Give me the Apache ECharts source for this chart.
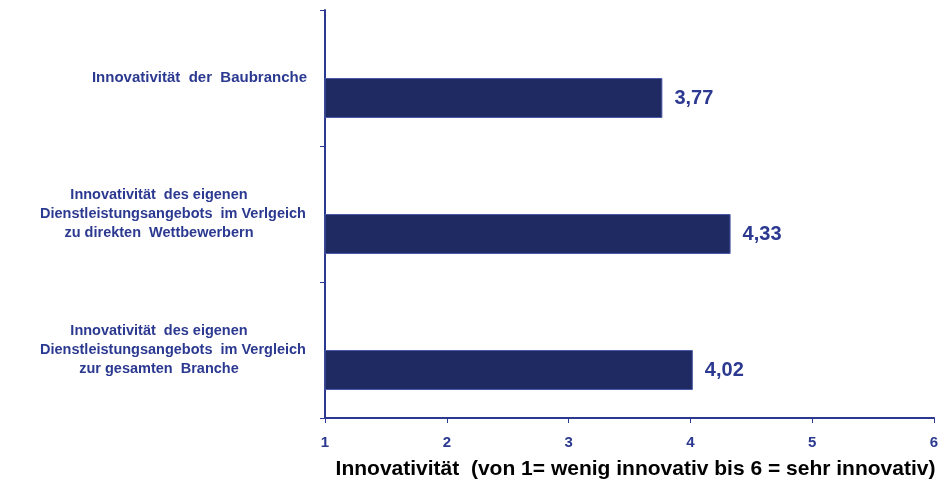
<!DOCTYPE html>
<html><head><meta charset="utf-8">
<script src="https://cdn.jsdelivr.net/npm/echarts@6/dist/echarts.min.js"></script>
<style>html,body{margin:0;padding:0;background:#fff}#c{width:945px;height:495px}</style>
</head><body><div id="c"></div>
<script>
var categories = [
  "Innovativität  der  Baubranche",
  "Innovativität  des eigenen\nDienstleistungsangebots  im Verlgeich\nzu direkten  Wettbewerbern",
  "Innovativität  des eigenen\nDienstleistungsangebots  im Vergleich\nzur gesamten  Branche"
];
var values = [3.77, 4.33, 4.02];
var xTicks = [1, 2, 3, 4, 5, 6];
var axisTitle = "Innovativität  (von 1= wenig innovativ bis 6 = sehr innovativ)";

var blue = "#2B3990";
var font = 'Liberation Sans, Arial, sans-serif';
var chart = echarts.init(document.getElementById('c'), null, {renderer: 'canvas'});
chart.setOption({
  animation: false,
  grid: {left: 325, right: 11, top: 10, bottom: 77},
  xAxis: {
    type: 'value', min: xTicks[0], max: xTicks[xTicks.length - 1], interval: 1,
    axisLine: {show: true, lineStyle: {color: blue, width: 2}},
    axisTick: {show: true, length: 5, lineStyle: {color: blue, width: 1}},
    splitLine: {show: false},
    axisLabel: {color: blue, fontFamily: font, fontWeight: 'bold', fontSize: 15, margin: 17},
    name: axisTitle, nameLocation: 'middle', nameGap: 41,
    nameTextStyle: {color: '#000', fontFamily: font, fontWeight: 'bold', fontSize: 21, padding: [0, 0, 0, 12]}
  },
  yAxis: {
    type: 'category', data: categories, inverse: true,
    axisLine: {show: true, lineStyle: {color: blue, width: 2}},
    axisTick: {show: true, length: 5, lineStyle: {color: blue, width: 1}},
    axisLabel: {
      color: blue, fontFamily: font, fontWeight: 'bold', fontSize: 14, lineHeight: 19, align: 'right', margin: 18,
      formatter: function (v) {
        if (v.indexOf('\n') < 0) return '{r|' + v + '}';
        return v.split('\n').map(function (l, i) { return (i === 1 ? '{c|' : '{s|') + l + '}'; }).join('\n');
      },
      rich: {
        r: {color: blue, fontFamily: font, fontWeight: 'bold', fontSize: 15, lineHeight: 19},
        c: {color: blue, fontFamily: font, fontWeight: 'bold', fontSize: 14.5, lineHeight: 19, width: 268, align: 'center'},
        s: {color: blue, fontFamily: font, fontWeight: 'bold', fontSize: 14.5, lineHeight: 19, width: 240, padding: [0, 28, 0, 0], align: 'center'}
      }
    }
  },
  series: [
    {type: 'bar', data: values.map(function(){return '-';}), barWidth: 40, barGap: '0%', silent: true},
    {type: 'bar', data: values, barWidth: 40, barGap: '0%',
     itemStyle: {color: '#1F2A63', borderColor: '#4A5AA8', borderWidth: 1},
     label: {show: true, position: 'right', distance: 12, color: blue, fontFamily: font, fontWeight: 'bold', fontSize: 20,
       formatter: function(p){ return p.value.toFixed(2).replace('.', ','); }}
    }
  ]
});
</script></body></html>
